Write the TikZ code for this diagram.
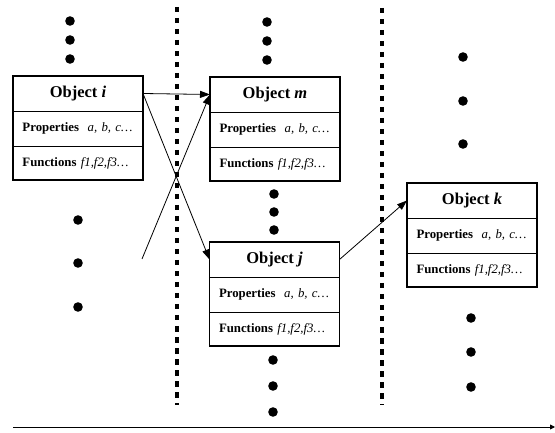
\documentclass[tikz,border=0pt]{standalone}
\usepackage{fontspec}
\setmainfont{Liberation Serif}
\usetikzlibrary{arrows.meta}

% One object: a title row and two member rows stacked under it
\newcommand\objectbox[4]{% name, centre x, top y, object letter
  \node[titlerow] (#1-t) at (#2,#3) {Object \textit{#4}};
  \node[memberrow] (#1-p) at (#1-t.south) {\textbf{Properties}\ \ \textit{a, b, c\ldots}};
  \node[memberrow, minimum height=34pt] (#1-f) at (#1-p.south) {\textbf{Functions} \textit{f1,f2,f3\ldots}};
  \draw[line width=1.1pt] (#1-t.north west) rectangle (#1-f.south east);
}

\begin{document}
\begin{tikzpicture}[x=1pt, y=-1pt,
  row/.style={draw, line width=0.8pt, minimum width=130pt, minimum height=35pt,
    inner sep=0pt, outer sep=0pt, anchor=north},
  titlerow/.style={row, font=\fontsize{16.5}{18}\selectfont\bfseries},
  memberrow/.style={row, font=\fontsize{12.8}{14}\selectfont,
    text width=111pt, align=left},
  link/.style={line width=0.8pt, -{Triangle[length=10pt,width=7pt]}},
  divider/.style={line width=3.2pt, dash pattern=on 5.5pt off 5.5pt},
  dot/.style={fill=black},
]
\useasboundingbox (0,0) rectangle (555,433);

% time-slice separators
\coordinate (s1top) at (177,7);
\coordinate (s1bot) at (177,405);
\coordinate (s2top) at (382,8);
\coordinate (s2bot) at (382,405);
\draw[divider] (s1top) -- (s1bot);
\draw[divider] (s2top) -- (s2bot);

% objects
\objectbox{i}{78}{76}{i}
\objectbox{m}{275}{77}{m}
\objectbox{j}{274.5}{242}{j}
\objectbox{k}{472}{183}{k}

% message links
\coordinate (src) at (142,259);
\draw[link] (i-t.east) -- (m-t.west);
\draw[link] (i-t.east) -- (j-t.west);
\draw[link] (src) -- (m-t.west);
\draw[link] (j-t.east) -- (k-t.west);

% continuation dots
\foreach \x/\y in {70/21, 70/40, 70/59,
                   78/220, 78/263, 78/307,
                   267/22, 267/41, 267/60,
                   274/194, 274/212, 274/230,
                   273/360, 273/386, 273/412,
                   463/57, 463/101, 463/144,
                   471/318, 471/352, 471/387}
  \fill[dot] (\x,\y) circle (4.8pt);

% time axis
\coordinate (t0) at (13,427);
\coordinate (t1) at (555,427);
\draw[line width=0.9pt, -{Triangle[length=5pt,width=5pt]}] (t0) -- (t1);
\end{tikzpicture}
\end{document}
